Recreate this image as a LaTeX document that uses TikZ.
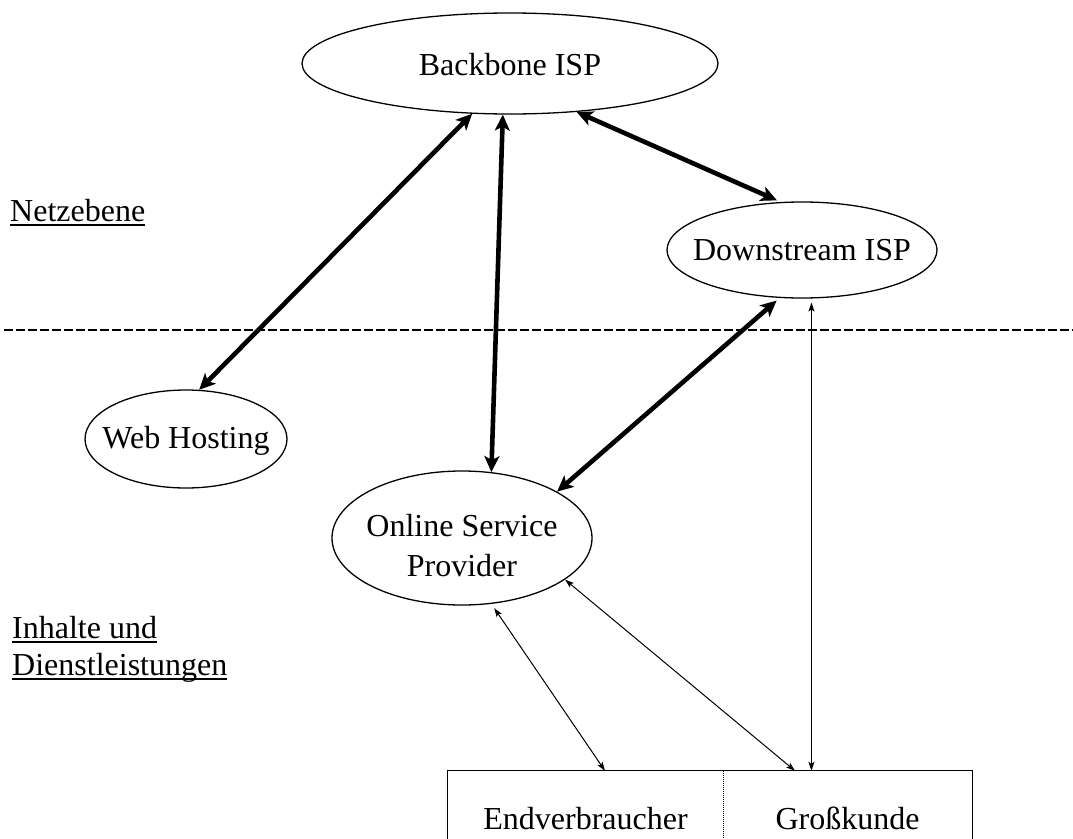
\documentclass[tikz,border=0pt]{standalone}
\usepackage{fontspec}
\setmainfont{Liberation Serif}
\usetikzlibrary{arrows.meta,shapes.geometric,calc}
\newcommand\ulx[1]{\setbox0=\hbox{#1}\rlap{\vrule width\wd0 height -3pt depth 5pt}\box0}
\begin{document}
\begin{tikzpicture}[x=1pt,y=-1pt,
  every node/.style={font=\fontsize{32}{40}\selectfont, inner sep=0pt},
  ell/.style={ellipse, draw, line width=1.3pt, text depth=0pt},
  thickarr/.style={line width=4.6pt, {Stealth[length=16pt,width=15pt,inset=4pt]}-{Stealth[length=16pt,width=15pt,inset=4pt]}},
  thinarr/.style={line width=1pt, {Stealth[length=9pt,width=6pt,inset=2pt]}-{Stealth[length=9pt,width=6pt,inset=2pt]}},
  lbl/.style={anchor=base west},
  cell/.style={rectangle, minimum height=95pt, text height=21pt, text depth=0pt}]
\useasboundingbox (0,0) rectangle (1073,838);
% ellipses
\node[ell, minimum width=416pt, minimum height=101pt, text height=24pt] (bb) at (510,63.5) {\makebox[0pt]{Backbone ISP}};
\node[ell, minimum width=270pt, minimum height=96pt, text height=20pt] (ds) at (802,250) {\makebox[0pt]{Downstream ISP}};
\node[ell, minimum width=202pt, minimum height=98pt, text height=18pt] (wh) at (186,439) {\makebox[0pt]{Web Hosting}};
\node[ell, minimum width=260pt, minimum height=134pt] (osp) at (462,538) {};
\node[align=center] (ospt) at (462,546) {Online Service\\Provider};
% box
\node[cell, minimum width=275pt] (ev) at (585.5,818.5) {Endverbraucher};
\node[cell, minimum width=249pt] (gk) at (847.5,818.5) {Großkunde};
\draw[line width=1.3pt] (ev.south west) -- (ev.north west) -- (gk.north east) -- (gk.south east);
\draw[line width=1pt, densely dotted] (ev.north east) -- (ev.south east);
% separator
\coordinate (dl) at (4,330);
\coordinate (dr) at (1073,330);
\draw[dash pattern=on 9pt off 3pt, line width=1.2pt] (dl) -- (dr);
% labels
\node[lbl] (netz) at (10,221) {\ulx{Netzebene}};
\node[lbl] (inh1) at (12,638) {\ulx{Inhalte und}};
\node[lbl] (inh2) at (12,675) {\ulx{Dienstleistungen}};
% thick connectors
\draw[thickarr] (bb.233.5) -- (wh.75.7);
\draw[thickarr] (bb.262.3) -- (osp.66.8);
\draw[thickarr, shorten >=4pt] (bb.324.5) -- (ds.114.9);
\draw[thickarr, shorten <=4pt] (ds.245.1) -- (osp.26.8);
% thin connectors
\draw[thinarr, shorten <=5pt] (osp.294.8) -- ([xshift=19.5pt]ev.north);
\draw[thinarr] (osp.338.3) -- ([xshift=-52.5pt]gk.north);
\draw[thinarr, shorten <=4pt] (ds.281.8) -- (ds.281.8 |- gk.north);
\end{tikzpicture}
\end{document}
